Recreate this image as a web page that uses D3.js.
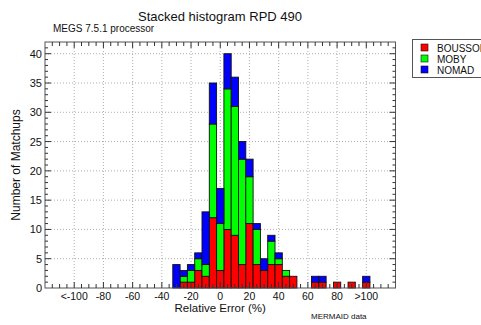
<!DOCTYPE html>
<html><head><meta charset="utf-8">
<script src="https://cdn.jsdelivr.net/npm/d3@7"></script>
<style>body{margin:0;background:#fff;}svg{display:block;font-family:"Liberation Sans",Arial,sans-serif;}</style>
</head><body><svg id="c" width="481" height="325"></svg>
<script>
const bins = [-30,-25,-20,-15,-10,-5,0,5,10,15,20,25,30,35,40,45,50,55,60,65,70,75,80,85,90,95,100];
const bousssole = [0,1,1,3,2,12,3,10,9,4,11,4,3,4,4,2,2,0,0,1,1,0,1,0,1,0,1];
const moby      = [0,1,2,2,2,16,8,24,22,18,8,6,0,4,1,1,0,0,0,0,0,0,0,0,0,0,0];
const nomad     = [4,1,1,1,9,7,6,6,5,3,3,1,2,1,1,0,0,0,0,1,1,0,0,0,0,0,1];
const seriesNames = ["BOUSSOLE","MOBY","NOMAD"];
const colors = ["#ff0000","#00ff00","#0000ff"];
const xTicks = [-100,-80,-60,-40,-20,0,20,40,60,80,100];
const xTickLabels = ["<-100","-80","-60","-40","-20","0","20","40","60","80",">100"];
const yTicks = [0,5,10,15,20,25,30,35,40];

const svg = d3.select("#c");
const L=45,R=395.5,T=42,B=288;
const x = d3.scaleLinear().domain([-120,120]).range([L,R]);
const y = d3.scaleLinear().domain([0,42]).range([B,T]);
const binW = 5;

// grid
const g = svg.append("g");
g.selectAll(".gx").data(xTicks).join("line")
  .attr("x1",d=>x(d)).attr("x2",d=>x(d)).attr("y1",T).attr("y2",B)
  .attr("stroke","#999").attr("stroke-width",0.8).attr("stroke-dasharray","1,2");
g.selectAll(".gy").data(yTicks.filter(d=>d>0)).join("line")
  .attr("x1",L).attr("x2",R).attr("y1",d=>y(d)).attr("y2",d=>y(d))
  .attr("stroke","#999").attr("stroke-width",0.8).attr("stroke-dasharray","1,2");

// stacked bars
const table = bins.map((b,i)=>({bin:b,BOUSSOLE:bousssole[i],MOBY:moby[i],NOMAD:nomad[i]}));
const stack = d3.stack().keys(seriesNames)(table);
stack.forEach((s,si)=>{
  svg.append("g").selectAll("rect").data(s.filter(d=>d[1]-d[0]>0)).join("rect")
    .attr("x",d=>x(d.data.bin-binW/2)).attr("width",d=>x(d.data.bin+binW/2)-x(d.data.bin-binW/2))
    .attr("y",d=>y(d[1])).attr("height",d=>y(d[0])-y(d[1]))
    .attr("fill",colors[si]).attr("stroke","#111").attr("stroke-width",0.9);
});

// frame
svg.append("rect").attr("x",L).attr("y",T).attr("width",R-L).attr("height",B-T)
  .attr("fill","none").attr("stroke","#555").attr("stroke-width",1);

// minor ticks
const xMinor = d3.range(-115,120,5);
const tk = svg.append("g").attr("stroke","#333").attr("stroke-width",1);
xMinor.forEach(v=>{
  const len = (v%20===0)?6:4;
  tk.append("line").attr("x1",x(v)).attr("x2",x(v)).attr("y1",B).attr("y2",B-len);
  tk.append("line").attr("x1",x(v)).attr("x2",x(v)).attr("y1",T).attr("y2",T+len);
});
d3.range(1,42,1).forEach(v=>{
  const len = (v%5===0)?6:3;
  tk.append("line").attr("x1",L).attr("x2",L+len).attr("y1",y(v)).attr("y2",y(v));
  tk.append("line").attr("x1",R).attr("x2",R-len).attr("y1",y(v)).attr("y2",y(v));
});

// axes labels
svg.append("g").selectAll("text").data(yTicks).join("text")
  .attr("x",L-3).attr("y",d=>y(d)+4).attr("text-anchor","end")
  .attr("font-size",11).attr("fill","#111").text(d=>d);
svg.append("g").selectAll("text").data(xTicks).join("text")
  .attr("x",d=>x(d)).attr("y",B+12).attr("text-anchor","middle")
  .attr("font-size",10.5).attr("fill","#111").text((d,i)=>xTickLabels[i]);

svg.append("text").attr("x",220).attr("y",21).attr("text-anchor","middle").attr("font-size",13).attr("fill","#111").text("Stacked histogram RPD 490");
svg.append("text").attr("x",53).attr("y",32).attr("font-size",10).attr("fill","#111").text("MEGS 7.5.1 processor");
svg.append("text").attr("x",x(0)).attr("y",312).attr("text-anchor","middle").attr("font-size",11.5).attr("fill","#111").text("Relative Error (%)");
svg.append("text").attr("transform",`translate(20,${(T+B)/2}) rotate(-90)`).attr("text-anchor","middle").attr("font-size",12).attr("fill","#111").text("Number of Matchups");
svg.append("text").attr("x",311).attr("y",319).attr("font-size",8).attr("fill","#111").text("MERMAID data");

// legend
const lg = svg.append("g");
lg.append("rect").attr("x",412.5).attr("y",39.5).attr("width",80).attr("height",38).attr("fill","#fff").attr("stroke","#555");
seriesNames.forEach((n,i)=>{
  lg.append("rect").attr("x",421).attr("y",44+i*11).attr("width",7).attr("height",7).attr("fill",colors[i]).attr("stroke","#111").attr("stroke-width",0.6);
  lg.append("text").attr("x",437).attr("y",51.5+i*11).attr("font-size",10).attr("fill","#111").text(n);
});
</script></body></html>
